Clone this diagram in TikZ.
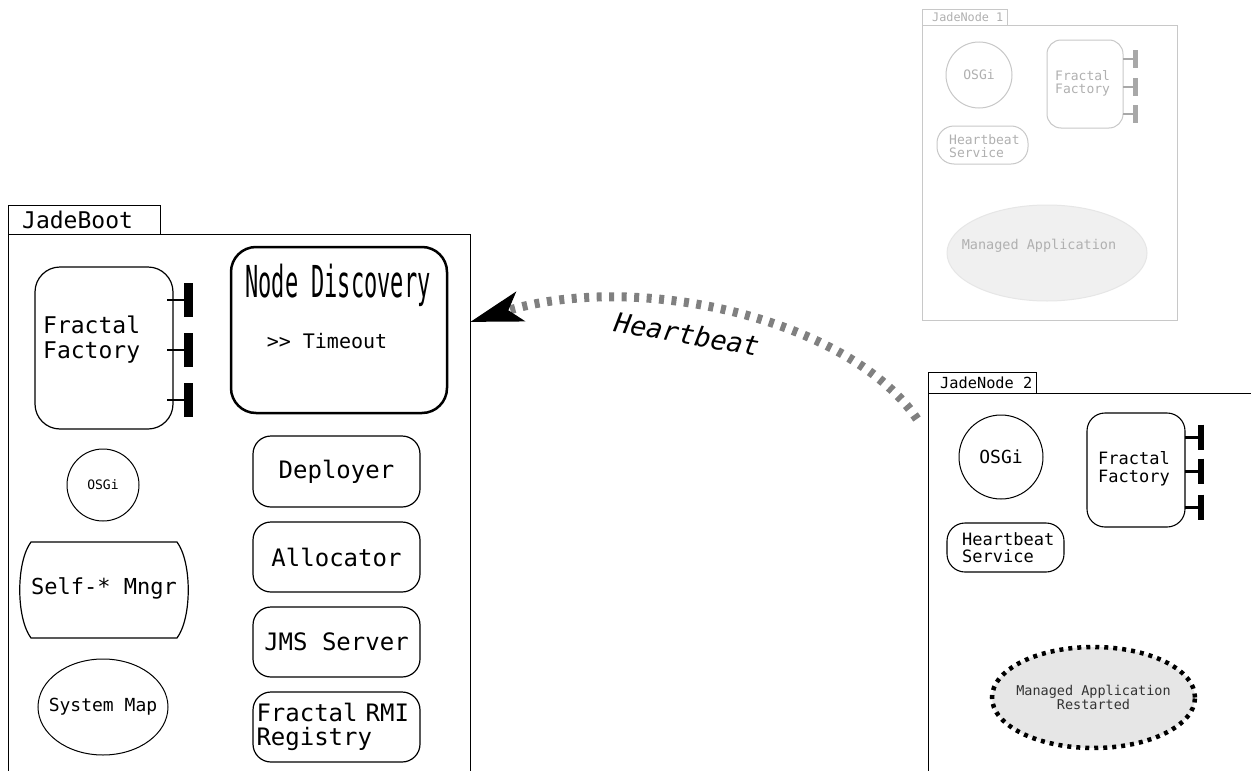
\documentclass[tikz,border=0pt]{standalone}
\usepackage{fontspec}
\usetikzlibrary{arrows.meta,shapes.geometric}
\newfontfamily\jm{DejaVu Sans Mono}
\newfontfamily\jmcond[FakeStretch=0.5]{DejaVu Sans Mono}
\newfontfamily\jmobl{DejaVu Sans Mono Oblique}
\newcommand\fsz[2]{\fontsize{#1}{#2}\selectfont}
\definecolor{fadeline}{HTML}{C8C8C8}
\definecolor{fadetext}{HTML}{B0B0B0}
\definecolor{fadeport}{HTML}{A8A8A8}
\definecolor{fadefill}{HTML}{F0F0F0}
\definecolor{hbgray}{HTML}{808080}
\definecolor{restfill}{HTML}{E6E6E6}
\tikzset{
  frame/.style={draw, line width=1.3pt, inner sep=0pt},
  rbox/.style={draw, line width=1.2pt, rounded corners=18pt, inner sep=0pt, font=\jm\fsz{24}{24}},
  circ/.style={draw, circle, line width=1pt, inner sep=0pt},
  ell/.style={draw, ellipse, line width=1pt, inner sep=0pt},
  faded/.style={draw=fadeline, text=fadetext},
  txt/.style={inner sep=0pt, align=left},
}
\begin{document}
\begin{tikzpicture}[x=1pt,y=-1pt]
\useasboundingbox[fill=white] (0,0) rectangle (1251,771);

% ---------------- JadeBoot ----------------
\node[frame, anchor=north west, minimum width=152pt, minimum height=29pt] (jbtab) at (8,205) {};
\node[txt, anchor=west, font=\jm\fsz{23}{23}] (jbtabtext) at (22,220) {JadeBoot};
\node[frame, anchor=north west, minimum width=462pt, minimum height=600pt] (jadeboot) at (8,234) {};

\node[rbox, rounded corners=25pt, minimum width=138pt, minimum height=162pt] (jbff) at (104,348) {};
\node[txt, anchor=west, font=\jm\fsz{23}{25}] (jbfftext) at (43,340) {Fractal\\Factory};
\foreach \yy in {300,350,400}{
  \draw[line width=2.5pt] (167,\yy) -- (186,\yy);
  \draw[line width=9pt] (188,\yy-17) -- (188,\yy+17);
}

\node[draw, line width=2.5pt, rounded corners=25pt, minimum width=216pt, minimum height=166pt] (nd) at (339,330) {};
\node[font=\jmcond\fsz{44}{44}, inner sep=0pt, anchor=base] (ndtitle) at (338,297) {Node Discovery};
\node[font=\jm\fsz{20}{20}, inner sep=0pt, anchor=base] (ndtime) at (327,348) {>> Timeout};

\node[rbox, minimum width=167pt, minimum height=71pt] (deployer) at (336.5,471.5) {Deployer};
\node[rbox, minimum width=167pt, minimum height=70pt] (allocator) at (336.5,557) {Allocator};
\node[rbox, minimum width=167pt, minimum height=70pt] (jms) at (336.5,642) {JMS Server};
\node[rbox, minimum width=167pt, minimum height=70pt, text width=160pt, inner xsep=3.5pt, align=left] (rmi) at (336.5,727) {Fractal RMI\\Registry};

\node[circ, minimum size=72pt, font=\jm\fsz{13}{13}] (jbosgi) at (103,485) {OSGi};
\draw[line width=1.2pt] (31,542) -- (177,542) .. controls (192,562) and (192,618) .. (177,638) -- (31,638) .. controls (16,618) and (16,562) .. (31,542) -- cycle;
\node[txt, font=\jm\fsz{22}{22}] (selfm) at (104,588) {Self-* Mngr};
\node[ell, minimum width=130pt, minimum height=96pt] (sysmap) at (103,707) {};
\node[txt, font=\jm\fsz{18}{18}] (sysmaptext) at (sysmap.center) {System Map};

% ---------------- JadeNode 1 (faded) ----------------
\node[frame, faded, line width=1pt, anchor=north west, minimum width=85pt, minimum height=16pt] (jn1tab) at (922,9) {};
\node[txt, text=fadetext, anchor=west, font=\jm\fsz{11.8}{11.8}] (jn1tabtext) at (932,17) {JadeNode 1};
\node[frame, faded, line width=1pt, anchor=north west, minimum width=255pt, minimum height=295pt] (jn1) at (922,25) {};
\node[circ, faded, minimum size=66pt, font=\jm\fsz{13}{13}] (jn1osgi) at (979,75) {OSGi};
\node[rbox, faded, line width=1pt, rounded corners=14pt, minimum width=76pt, minimum height=88pt] (jn1ff) at (1085,84) {};
\node[txt, text=fadetext, anchor=west, font=\jm\fsz{13}{13}] (jn1fftext) at (1055,83) {Fractal\\Factory};
\foreach \yy in {59,87,114}{
  \draw[fadeport, line width=2.5pt] (1123,\yy) -- (1135,\yy);
  \draw[fadeport, line width=5pt] (1135.5,\yy-9) -- (1135.5,\yy+9);
}
\node[rbox, faded, line width=1pt, rounded corners=17pt, minimum width=91pt, minimum height=38pt] (jn1hb) at (982.5,145) {};
\node[txt, text=fadetext, anchor=west, font=\jm\fsz{13}{13}] (jn1hbtext) at (949,146) {Heartbeat\\Service};
\node[ell, draw=restfill, fill=fadefill, minimum width=200pt, minimum height=96pt] (jn1app) at (1047,253) {};
\node[txt, text=fadetext, font=\jm\fsz{13.5}{13.5}] (jn1apptext) at (1039,246) {Managed Application};

% ---------------- JadeNode 2 ----------------
\node[frame, anchor=north west, minimum width=108pt, minimum height=21pt] (jn2tab) at (928,372) {};
\node[txt, anchor=west, font=\jm\fsz{15.3}{15.3}] (jn2tabtext) at (940,382.5) {JadeNode 2};
\node[frame, anchor=north west, minimum width=340pt, minimum height=420pt] (jn2) at (928,393) {};
\node[circ, minimum size=84pt, font=\jm\fsz{18}{18}] (jn2osgi) at (1001,457) {OSGi};
\node[rbox, line width=1.1pt, rounded corners=18pt, minimum width=98pt, minimum height=114pt] (jn2ff) at (1136,470) {};
\node[txt, anchor=west, font=\jm\fsz{17}{18}] (jn2fftext) at (1098,469) {Fractal\\Factory};
\foreach \yy in {437,471,507}{
  \draw[line width=3pt] (1185,\yy) -- (1199,\yy);
  \draw[line width=6.5pt] (1201,\yy-12.5) -- (1201,\yy+12.5);
}
\node[rbox, line width=1.1pt, rounded corners=18pt, minimum width=117pt, minimum height=49pt] (jn2hb) at (1005.5,547.5) {};
\node[txt, anchor=west, font=\jm\fsz{17}{17}] (jn2hbtext) at (962,548) {Heartbeat\\Service};
\node[ell, fill=restfill, line width=4.5pt, dash pattern=on 4pt off 5pt, minimum width=203pt, minimum height=101pt] (jn2app) at (1093.5,697.5) {};
\node[txt, align=center, text=black!80, font=\jm\fsz{13.5}{12}] (jn2apptext) at (jn2app.center) {Managed Application\\Restarted};

% ---------------- Heartbeat ----------------
\coordinate (hbstart) at (917,419);
\coordinate (hbend) at (470,322);
\draw[hbgray, line width=9pt, dash pattern=on 5pt off 7.5pt,
      -{Stealth[length=52pt,width=30pt,inset=12pt,color=black]}]
  (hbstart) .. controls (850,320) and (640,270) .. (hbend);
\node[font=\jmobl\fsz{27}{27}, rotate=-10, inner sep=0pt] (hblabel) at (687,334) {Heartbeat};
\end{tikzpicture}
\end{document}
